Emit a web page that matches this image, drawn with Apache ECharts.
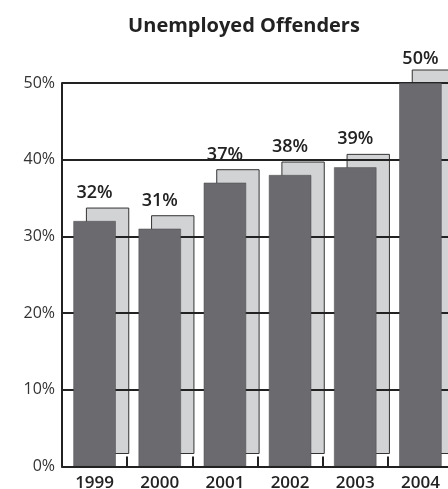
<!DOCTYPE html>
<html>
<head>
<meta charset="utf-8">
<script src="https://cdn.jsdelivr.net/npm/echarts@6/dist/echarts.min.js"></script>
<style>
  html, body { margin: 0; padding: 0; background: #fff; }
  #chart { width: 448px; height: 489px; }
</style>
</head>
<body>
<div id="chart"></div>
<script>
// Share of offenders who were unemployed, by year
const years = ['1999', '2000', '2001', '2002', '2003', '2004'];
const unemployedPct = [32, 31, 37, 38, 39, 50];
const yTicks = [0, 10, 20, 30, 40, 50];

const BAR_RATIO = 0.65;   // bar width as share of category band
const SHADOW_SHIFT = 13;  // px offset of the backing plate

const chart = echarts.init(document.getElementById('chart'), null, { renderer: 'canvas' });

const barData = unemployedPct.map((v, i) => {
  const item = { value: v };
  if (i === unemployedPct.length - 1) item.label = { distance: 15 };
  return item;
});

chart.setOption({
  animation: false,
  title: {
    text: 'Unemployed Offenders',
    left: 239,
    top: 11,
    textAlign: 'center',
    textStyle: { fontFamily: 'Open Sans', fontWeight: 'bold', fontSize: 20, color: '#222' }
  },
  grid: { left: 62, right: -5, top: 83, bottom: 22.5, containLabel: false, outerBoundsMode: 'none' },
  xAxis: {
    type: 'category',
    data: years,
    z: 4,
    axisLine: { lineStyle: { color: '#222', width: 2 } },
    axisTick: { show: true, inside: true, length: 10, lineStyle: { color: '#222', width: 2 } },
    axisLabel: { fontFamily: 'Open Sans', fontWeight: 600, fontSize: 17, color: '#222', margin: 8 }
  },
  yAxis: {
    type: 'value',
    min: yTicks[0],
    max: yTicks[yTicks.length - 1],
    interval: 10,
    z: 2,
    axisLine: { show: true, lineStyle: { color: '#222', width: 2 } },
    axisTick: { show: false },
    splitLine: { show: true, lineStyle: { color: '#222', width: 2 } },
    axisLabel: { formatter: '{value}%', fontFamily: 'Open Sans', fontSize: 16, color: '#333', margin: 7 }
  },
  series: [
    {
      // light backing plate, shifted up and right of each bar
      type: 'custom',
      z: 1,
      clip: false,
      data: unemployedPct.map((v, i) => [i, v]),
      renderItem: (params, api) => {
        const top = api.coord([api.value(0), api.value(1)]);
        const base = api.coord([api.value(0), 0]);
        const bw = api.size([1, 0])[0] * BAR_RATIO;
        return {
          type: 'rect',
          shape: {
            x: top[0] - bw / 2 + SHADOW_SHIFT,
            y: top[1] - SHADOW_SHIFT,
            width: bw,
            height: base[1] - top[1]
          },
          style: { fill: '#d2d3d5', stroke: '#333', lineWidth: 1 }
        };
      }
    },
    {
      type: 'bar',
      z: 3,
      data: barData,
      barWidth: (BAR_RATIO * 100) + '%',
      itemStyle: { color: '#6b6b6f', borderColor: '#4a4a4e', borderWidth: 0.5 },
      label: {
        show: true,
        position: 'top',
        distance: 19,
        formatter: '{c}%',
        fontFamily: 'Open Sans',
        fontWeight: 600,
        fontSize: 18,
        color: '#222'
      }
    }
  ]
});
</script>
</body>
</html>
